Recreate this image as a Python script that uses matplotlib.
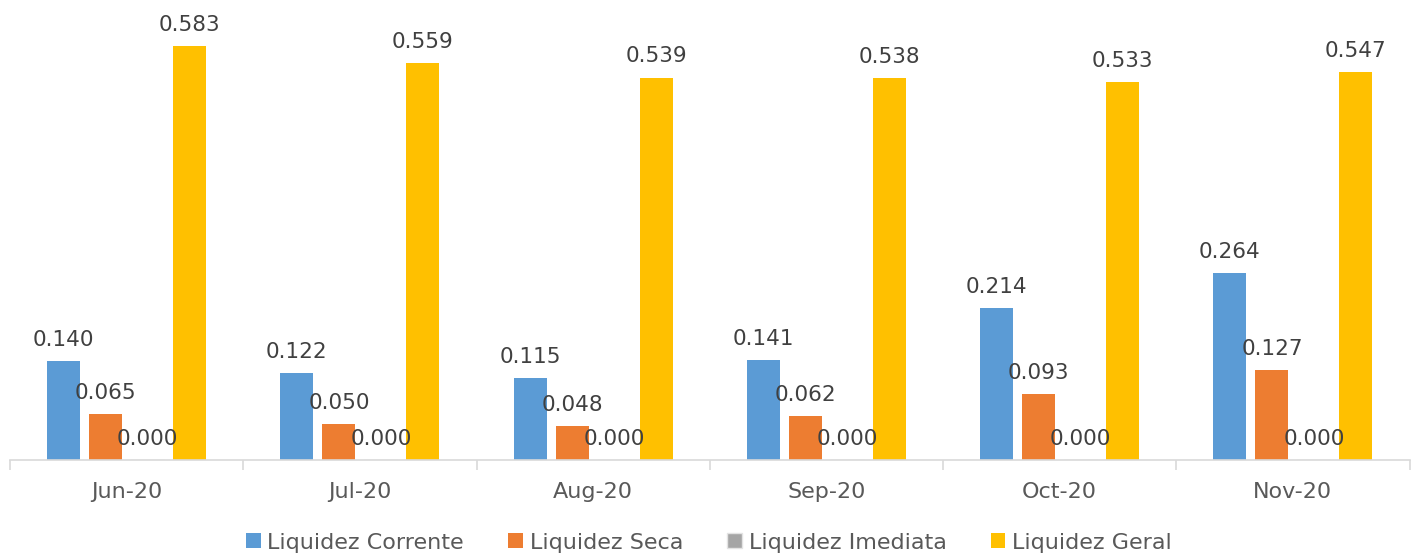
import numpy as np
import matplotlib.pyplot as plt

months = ['Jun-20', 'Jul-20', 'Aug-20', 'Sep-20', 'Oct-20', 'Nov-20']
series_names = ['Liquidez Corrente', 'Liquidez Seca', 'Liquidez Imediata', 'Liquidez Geral']
corrente = [0.140, 0.122, 0.115, 0.141, 0.214, 0.264]
seca = [0.065, 0.050, 0.048, 0.062, 0.093, 0.127]
imediata = [0.000, 0.000, 0.000, 0.000, 0.000, 0.000]
geral = [0.583, 0.559, 0.539, 0.538, 0.533, 0.547]
colors = ['#5b9bd5', '#ed7d31', '#a5a5a5', '#ffc000']

plt.rcParams['font.family'] = ['DejaVu Sans']

fig = plt.figure(figsize=(14.18, 5.56), dpi=100)
ax = fig.add_axes([0.00705, 0.1727, 0.987, 0.827])

x = np.arange(len(months))
slot = 0.18
width = 0.1414
for i, (name, vals) in enumerate(zip(series_names, [corrente, seca, imediata, geral])):
    pos = x + (i - 1.5) * slot
    ax.bar(pos, vals, width, color=colors[i], label=name,
           edgecolor='#e3e3e3' if i == 2 else 'none', linewidth=1)
    for p, v in zip(pos, vals):
        ax.annotate(f'{v:.3f}', (p, v), xytext=(0, 8), textcoords='offset points',
                    ha='center', va='bottom', fontsize=15.5, color='#404040')

ax.set_xlim(-0.5, 5.5)
ax.set_ylim(0, 0.648)
ax.set_yticks([])
for s in ['top', 'left', 'right']:
    ax.spines[s].set_visible(False)
ax.spines['bottom'].set_color('#d9d9d9')
ax.spines['bottom'].set_linewidth(1.2)

ax.set_xticks(x)
ax.set_xticklabels(months, fontsize=16, color='#595959')
ax.tick_params(axis='x', which='major', length=0, pad=16)
ax.set_xticks(np.arange(-0.5, 6, 1), minor=True)
ax.tick_params(axis='x', which='minor', length=7, color='#d9d9d9', width=1.2)

fig.legend(loc='lower center', bbox_to_anchor=(0.5, -0.03), ncol=4, frameon=False,
           fontsize=16, labelcolor='#595959', handlelength=0.65, handleheight=0.65,
           handletextpad=0.3, columnspacing=2.0)

plt.savefig('out.png', dpi=100)
